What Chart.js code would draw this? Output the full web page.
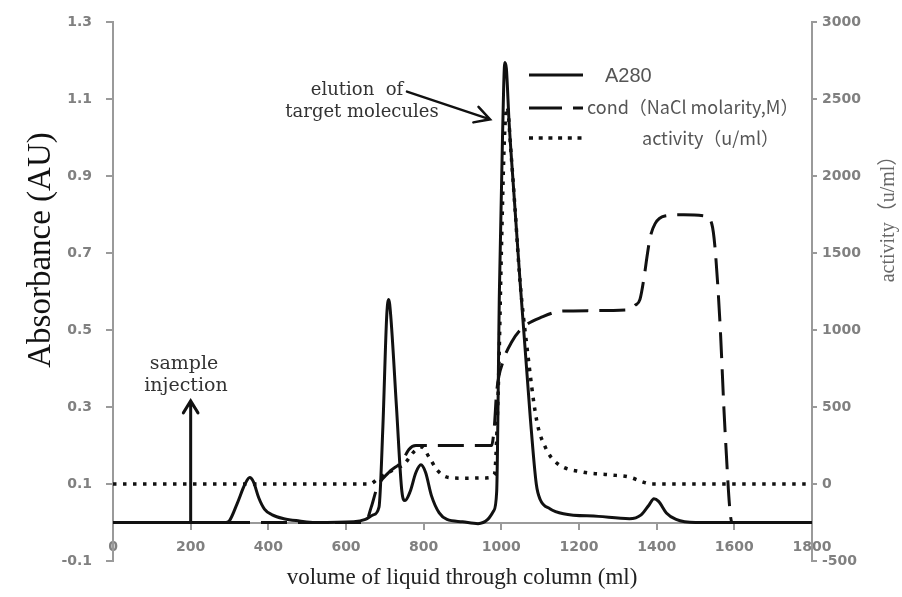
<!DOCTYPE html>
<html>
<head>
<meta charset="utf-8">
<script src="https://cdn.jsdelivr.net/npm/chart.js@4.4.1/dist/chart.umd.min.js"></script>
<style>
    html, body { margin: 0; padding: 0; background: #fff; }
    #wrap { position: relative; width: 902px; height: 597px; }
</style>
</head>
<body>
<div id="wrap"><canvas id="elutionChart"></canvas></div>
<script>
// Volume through the column (ml) and readings taken off the figure
const a280Ml = [0, 290, 300, 320, 340, 352, 362, 375, 390, 410, 440, 480, 520, 620, 650, 670, 685, 695, 705, 710,
    715, 730, 744, 752, 765, 780, 793, 805, 820, 840, 860, 900, 940, 965, 980, 988, 995, 1003, 1009, 1013,
    1020, 1030, 1048, 1074, 1090, 1100, 1125, 1160, 1250, 1330, 1360, 1380, 1393, 1405, 1425, 1450, 1500, 1800];
const a280Abs = [0, 0, 0.005, 0.05, 0.1, 0.117, 0.105, 0.065, 0.035, 0.02, 0.01, 0.004, 0, 0.002, 0.008, 0.02, 0.04, 0.25, 0.54, 0.58,
    0.54, 0.3, 0.08, 0.057, 0.08, 0.13, 0.15, 0.13, 0.07, 0.025, 0.008, 0.002, -0.003, 0.008, 0.03, 0.08, 0.6, 1.0, 1.196, 1.18,
    1.04, 0.89, 0.63, 0.28, 0.1, 0.06, 0.036, 0.023, 0.016, 0.01, 0.02, 0.045, 0.062, 0.055, 0.025, 0.008, 0, 0];

// NaCl gradient has no axis of its own, it is drawn on the absorbance scale
const condMl = [0, 650, 665, 680, 710, 745, 762, 780, 975, 982, 988, 1005, 1027, 1053, 1107, 1159, 1326, 1345, 1357, 1368,
    1375, 1383, 1396, 1421, 1470, 1524, 1542, 1550, 1563, 1576, 1594, 1800];
const condLevel = [0, 0, 0.04, 0.09, 0.13, 0.16, 0.19, 0.2, 0.2, 0.25, 0.34, 0.42, 0.47, 0.505, 0.535, 0.55, 0.553, 0.565, 0.58, 0.64,
    0.69, 0.74, 0.777, 0.797, 0.8, 0.797, 0.776, 0.717, 0.52, 0.24, 0, 0];

const activityMl = [0, 660, 685, 720, 750, 775, 795, 815, 835, 860, 900, 960, 982, 993, 1000, 1008, 1015, 1025, 1035, 1048,
    1066, 1091, 1115, 1143, 1210, 1280, 1330, 1365, 1385, 1800];
const activityU = [0, 0, 40, 90, 130, 210, 240, 170, 90, 45, 38, 40, 60, 700, 1500, 2250, 2450, 2150, 1800, 1320,
    890, 414, 230, 136, 78, 60, 45, 13, 0, 0];

const xTicks = [0, 200, 400, 600, 800, 1000, 1200, 1400, 1600, 1800];
const absTicks = [-0.1, 0.1, 0.3, 0.5, 0.7, 0.9, 1.1, 1.3];
const absTickLabels = ['-0.1', '0.1', '0.3', '0.5', '0.7', '0.9', '1.1', '1.3'];
const actTicks = [-500, 0, 500, 1000, 1500, 2000, 2500, 3000];

const toPoints = (xs, ys) => xs.map((x, i) => ({ x: x, y: ys[i] }));

const axisGrey = '#9a9a9a';
const tickGrey = '#808080';
const tickFont = { family: "'DejaVu Sans', sans-serif", size: 14, weight: 'bold' };

function arrow(ctx, x0, y0, x1, y1, head, spread) {
    const a = Math.atan2(y1 - y0, x1 - x0);
    ctx.beginPath();
    ctx.moveTo(x0, y0);
    ctx.lineTo(x1, y1);
    ctx.moveTo(x1 - head * Math.cos(a - spread), y1 - head * Math.sin(a - spread));
    ctx.lineTo(x1, y1);
    ctx.lineTo(x1 - head * Math.cos(a + spread), y1 - head * Math.sin(a + spread));
    ctx.stroke();
}

// titles, notes and the legend box
const overlay = {
    id: 'overlay',
    afterDraw(chart) {
        const { ctx, scales: { x, y } } = chart;
        const px = v => x.getPixelForValue(v);
        const py = v => y.getPixelForValue(v);
        ctx.save();

        // arrows
        ctx.strokeStyle = '#111';
        ctx.lineWidth = 3;
        ctx.lineCap = 'round';
        ctx.lineJoin = 'miter';
        arrow(ctx, px(200), py(0), px(200), py(0.316), 14, 0.55);
        ctx.lineWidth = 2.5;
        arrow(ctx, px(757), py(1.12), px(971), py(1.048), 17, 0.5);

        // notes
        ctx.fillStyle = '#333';
        ctx.textAlign = 'center';
        ctx.textBaseline = 'middle';
        ctx.font = "18px 'DejaVu Serif', serif";
        ctx.fillText('elution  of', 357, 90);
        ctx.fillText('target molecules', 362, 112);
        ctx.font = "19px 'DejaVu Serif', serif";
        ctx.fillText('sample', 184, 364);
        ctx.fillText('injection', 186, 386);

        // axis titles
        ctx.fillStyle = '#222';
        ctx.font = "23px 'Liberation Serif', serif";
        ctx.fillText('volume of liquid through column (ml)', 462, 578);

        ctx.save();
        ctx.translate(41, 250);
        ctx.rotate(-Math.PI / 2);
        ctx.fillStyle = '#111';
        ctx.font = "33px 'Liberation Serif', serif";
        ctx.fillText('Absorbance (AU)', 0, 0);
        ctx.restore();

        ctx.save();
        ctx.translate(889, 214);
        ctx.rotate(-Math.PI / 2);
        ctx.fillStyle = '#666';
        ctx.font = "20px 'Liberation Serif', 'Noto Sans CJK SC', serif";
        ctx.fillText('activity（u/ml）', 0, 0);
        ctx.restore();

        // legend
        ctx.strokeStyle = '#111';
        ctx.lineCap = 'butt';
        ctx.lineWidth = 3;
        ctx.setLineDash([]);
        ctx.beginPath(); ctx.moveTo(529, 75); ctx.lineTo(583, 75); ctx.stroke();
        ctx.setLineDash([33, 11]);
        ctx.beginPath(); ctx.moveTo(529, 108); ctx.lineTo(583, 108); ctx.stroke();
        ctx.setLineDash([4, 5.7]);
        ctx.lineWidth = 3.5;
        ctx.beginPath(); ctx.moveTo(529, 138); ctx.lineTo(583, 138); ctx.stroke();
        ctx.setLineDash([]);

        ctx.textAlign = 'left';
        ctx.fillStyle = '#555';
        ctx.font = "20px 'Liberation Sans', sans-serif";
        ctx.fillText('A280', 605, 76);
        ctx.font = "18px 'Noto Sans CJK SC', sans-serif";
        ctx.fillText('cond（NaCl molarity,M）', 587, 107);
        ctx.fillText('activity（u/ml）', 642, 138);

        ctx.restore();
    }
};

new Chart(document.getElementById('elutionChart'), {
    type: 'line',
    data: {
        datasets: [
            {
                label: 'A280',
                data: toPoints(a280Ml, a280Abs),
                yAxisID: 'y',
                borderColor: '#111',
                borderWidth: 3,
                pointRadius: 0,
                cubicInterpolationMode: 'monotone'
            },
            {
                label: 'cond（NaCl molarity,M）',
                data: toPoints(condMl, condLevel),
                yAxisID: 'y',
                borderColor: '#111',
                borderWidth: 3,
                borderDash: [26, 11],
                pointRadius: 0,
                cubicInterpolationMode: 'monotone'
            },
            {
                label: 'activity（u/ml）',
                data: toPoints(activityMl, activityU),
                yAxisID: 'y1',
                borderColor: '#111',
                borderWidth: 3.5,
                borderDash: [3.5, 6.5],
                pointRadius: 0,
                cubicInterpolationMode: 'monotone'
            }
        ]
    },
    options: {
        responsive: true,
        maintainAspectRatio: false,
        animation: false,
        layout: { padding: { top: 20, bottom: 36, left: 0, right: 0 } },
        plugins: {
            legend: { display: false },
            tooltip: { enabled: false }
        },
        scales: {
            x: {
                type: 'linear',
                position: { y: 0 },
                min: 0,
                max: 1800,
                afterBuildTicks: s => { s.ticks = xTicks.map(v => ({ value: v })); },
                grid: { drawOnChartArea: false, color: axisGrey, tickLength: 6, lineWidth: 2 },
                border: { color: axisGrey, width: 2 },
                ticks: { font: tickFont, color: tickGrey, padding: 10, maxRotation: 0, callback: v => String(v) }
            },
            y: {
                position: 'left',
                min: -0.1,
                max: 1.3,
                afterBuildTicks: s => { s.ticks = absTicks.map(v => ({ value: v })); },
                afterFit: s => { s.width = 113; },
                grid: { drawOnChartArea: false, color: axisGrey, tickLength: 7, lineWidth: 2 },
                border: { color: axisGrey, width: 2 },
                ticks: {
                    font: tickFont,
                    color: tickGrey,
                    padding: 14,
                    callback: (v, i) => absTickLabels[i]
                }
            },
            y1: {
                position: 'right',
                min: -500,
                max: 3000,
                afterBuildTicks: s => { s.ticks = actTicks.map(v => ({ value: v })); },
                afterFit: s => { s.width = 90; },
                grid: { drawOnChartArea: false, color: axisGrey, tickLength: 5, lineWidth: 2 },
                border: { color: axisGrey, width: 2 },
                ticks: { font: tickFont, color: tickGrey, padding: 5, callback: v => String(v) }
            }
        }
    },
    plugins: [overlay]
});
</script>
</body>
</html>
